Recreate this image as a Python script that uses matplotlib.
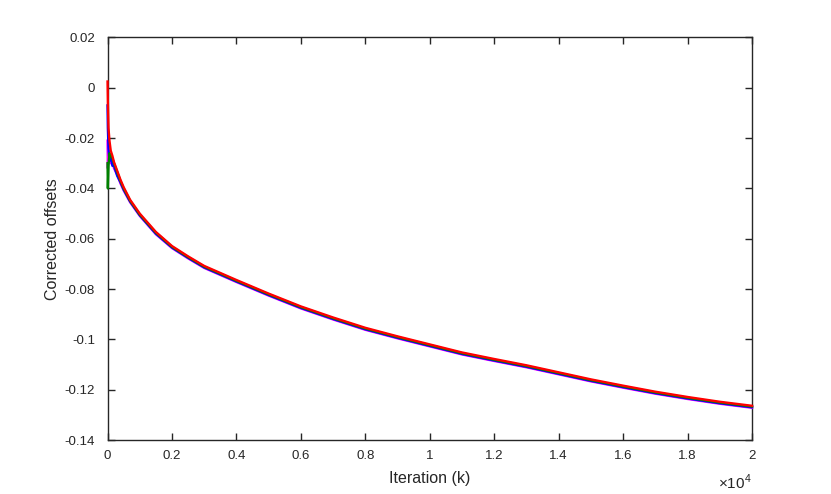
import matplotlib
matplotlib.use('Agg')
import matplotlib.pyplot as plt

plt.rcParams['font.family'] = ['Liberation Sans', 'DejaVu Sans']
plt.rcParams['mathtext.fontset'] = 'custom'
plt.rcParams['mathtext.rm'] = 'Liberation Sans'

# iterations (shared by all four runs)
iters = [0, 10, 30, 60, 100, 150, 200, 300, 400, 500, 700, 1000, 1500, 2000, 2500,
         3000, 4000, 5000, 6000, 7000, 8000, 9000, 10000, 11000, 12000, 13000,
         14000, 15000, 16000, 17000, 18000, 19000, 20000]

offs_m = [-0.021, -0.032, -0.025, -0.028, -0.030, -0.029, -0.032, -0.0345, -0.038, -0.0408,
          -0.0455, -0.0509, -0.0582, -0.0637, -0.0678, -0.0716, -0.0772, -0.0826, -0.0877,
          -0.0921, -0.0962, -0.0996, -0.1028, -0.1060, -0.1086, -0.1111, -0.1139, -0.1167,
          -0.1192, -0.1216, -0.1237, -0.1256, -0.1272]
offs_b = [-0.007, -0.016, -0.024, -0.029, -0.027, -0.031, -0.031, -0.035, -0.0375, -0.0405,
          -0.0452, -0.0507, -0.0580, -0.0635, -0.0676, -0.0714, -0.0770, -0.0824, -0.0875,
          -0.0919, -0.0960, -0.0994, -0.1026, -0.1058, -0.1084, -0.1109, -0.1137, -0.1165,
          -0.1190, -0.1214, -0.1235, -0.1254, -0.1270]
offs_g = [-0.030, -0.040, -0.031, -0.026, -0.027, -0.028, -0.030, -0.0335, -0.037, -0.040,
          -0.0449, -0.0504, -0.0576, -0.0632, -0.0673, -0.0711, -0.0767, -0.0821, -0.0872,
          -0.0916, -0.0957, -0.0991, -0.1023, -0.1055, -0.1081, -0.1106, -0.1134, -0.1162,
          -0.1187, -0.1211, -0.1232, -0.1251, -0.1267]
offs_r = [0.0025, -0.006, -0.016, -0.021, -0.025, -0.027, -0.0295, -0.033, -0.0365, -0.0395,
          -0.0445, -0.0500, -0.0573, -0.0629, -0.0670, -0.0708, -0.0764, -0.0818, -0.0869,
          -0.0913, -0.0954, -0.0988, -0.1020, -0.1052, -0.1078, -0.1103, -0.1131, -0.1159,
          -0.1184, -0.1208, -0.1229, -0.1248, -0.1264]

xticks = [0, 2000, 4000, 6000, 8000, 10000, 12000, 14000, 16000, 18000, 20000]
xtick_labels = ['0', '0.2', '0.4', '0.6', '0.8', '1', '1.2', '1.4', '1.6', '1.8', '2']
yticks = [0.02, 0, -0.02, -0.04, -0.06, -0.08, -0.1, -0.12, -0.14]
ytick_labels = ['0.02', '0', '-0.02', '-0.04', '-0.06', '-0.08', '-0.1', '-0.12', '-0.14']

fig = plt.figure(figsize=(8.31, 4.94), dpi=100)
ax = fig.add_axes([0.1294, 0.1093, 0.7756, 0.8148])

lw = 1.7
ax.plot(iters, offs_m, color=(1, 0, 1), lw=lw, zorder=3, clip_on=False)
ax.plot(iters, offs_b, color=(0, 0, 1), lw=lw, zorder=3, clip_on=False)
ax.plot(iters, offs_g, color=(0, 0.5, 0), lw=lw, zorder=3, clip_on=False)
ax.plot(iters, offs_r, color=(1, 0, 0), lw=lw, zorder=3, clip_on=False)

ax.set_xlim(0, 20000)
ax.set_ylim(-0.14, 0.02)
ax.set_xticks(xticks)
ax.set_xticklabels(xtick_labels)
ax.set_yticks(yticks)
ax.set_yticklabels(ytick_labels)

dark = '#262626'
ax.tick_params(direction='in', length=5, width=1, colors=dark, labelsize=9.5,
               top=True, right=True)
ax.tick_params(axis='y', pad=9)
ax.tick_params(axis='x', pad=7)
for s in ax.spines.values():
    s.set_color(dark)
    s.set_linewidth(1)

ax.set_xlabel('Iteration (k)', fontsize=11.5, color=dark, labelpad=7)
ax.set_ylabel('Corrected offsets', fontsize=11.5, color=dark, labelpad=3)
ax.text(1.0, -0.08, r'$\times10^{4}$', transform=ax.transAxes, ha='right', va='top',
        fontsize=11, color=dark)

plt.savefig('out.png', dpi=100)
plt.close()
